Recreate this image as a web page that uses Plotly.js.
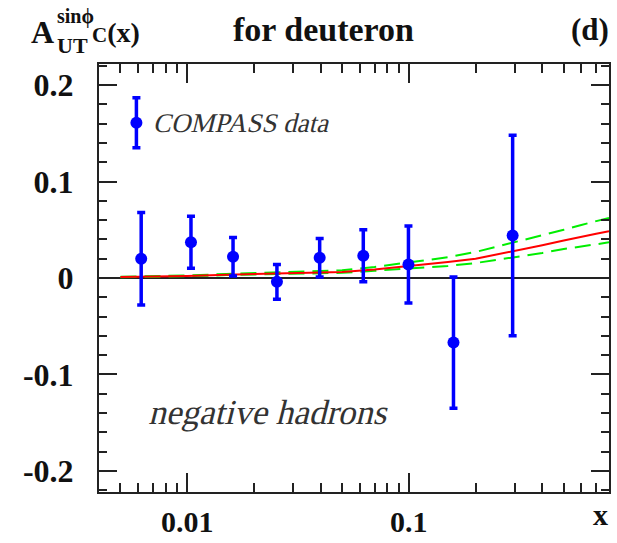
<!DOCTYPE html>
<html>
<head>
<meta charset="utf-8">
<script src="https://cdn.plot.ly/plotly-3.0.1.min.js"></script>
<style>html,body{margin:0;padding:0;background:#fff;}#chart{width:617px;height:543px;}</style>
</head>
<body>
<div id="chart"></div>
<script>
// COMPASS data points (deuteron, negative hadrons)
const xData = [0.0062, 0.0104, 0.0161, 0.0254, 0.0396, 0.0623, 0.0996, 0.159, 0.294];
const yData = [0.020, 0.037, 0.022, -0.004, 0.021, 0.023, 0.014, -0.067, 0.044];
const yErr  = [0.048, 0.027, 0.020, 0.018, 0.020, 0.027, 0.040, 0.068, 0.104];

// model curves (central and band)
const xCurve   = [0.005, 0.007, 0.01, 0.015, 0.02, 0.03, 0.05, 0.07, 0.1, 0.15, 0.2, 0.3, 0.4, 0.5, 0.6, 0.7, 0.8];
const yCentral = [0.0010, 0.0014, 0.0022, 0.0034, 0.0042, 0.0050, 0.0062, 0.0088, 0.0122, 0.0165, 0.0200, 0.0280, 0.0340, 0.0390, 0.0430, 0.0460, 0.0485];
const yUpper   = [0.0012, 0.0017, 0.0026, 0.0042, 0.0052, 0.0062, 0.0080, 0.0115, 0.0160, 0.0215, 0.0270, 0.0370, 0.0440, 0.0500, 0.0550, 0.0590, 0.0624];
const yLower   = [0.0008, 0.0012, 0.0018, 0.0030, 0.0036, 0.0042, 0.0054, 0.0075, 0.0095, 0.0125, 0.0155, 0.0215, 0.0260, 0.0300, 0.0330, 0.0350, 0.0370];

// legend sample marker
const legendX = [0.0059];
const legendY = [0.161];
const legendErr = [0.026];

// ticks
const xTickVals = [0.01, 0.1];
const xTickText = ['0.01', '0.1'];
const xMinorVals = [0.005, 0.006, 0.007, 0.008, 0.009, 0.02, 0.03, 0.04, 0.05, 0.06, 0.07, 0.08, 0.09, 0.2, 0.3, 0.4, 0.5, 0.6, 0.7];
const yTickVals = [-0.2, -0.1, 0, 0.1, 0.2];
const yTickText = ['-0.2', '-0.1', '0', '0.1', '0.2'];

const L = 99, R = 609, T = 64, B = 492;
const px = x => (x - L) / (R - L);
const py = y => (B - y) / (B - T);

const serif = 'Liberation Serif';
const blue = '#0000ff';

const traces = [
  {x: xCurve, y: yUpper, mode: 'lines', line: {color: '#00ee00', width: 2, dash: '16px,8px'}, hoverinfo: 'skip'},
  {x: xCurve, y: yLower, mode: 'lines', line: {color: '#00ee00', width: 2, dash: '16px,8px'}, hoverinfo: 'skip'},
  {x: xCurve, y: yCentral, mode: 'lines', line: {color: '#ff0000', width: 2}, hoverinfo: 'skip'},
  {x: xData, y: yData, mode: 'markers', marker: {color: blue, size: 12},
   error_y: {type: 'data', array: yErr, visible: true, color: blue, thickness: 3.5, width: 4}},
  {x: legendX, y: legendY, mode: 'markers', marker: {color: blue, size: 12},
   error_y: {type: 'data', array: legendErr, visible: true, color: blue, thickness: 3.5, width: 4}}
];

const ann = (text, x, y, size, opts) => Object.assign({
  text: text, xref: 'paper', yref: 'paper', x: px(x), y: py(y), showarrow: false,
  xanchor: 'left', yanchor: 'middle',
  font: {family: serif, size: size, color: '#111', weight: 'bold'}
}, opts || {});

const slanted = ['COMPASS data', 'negative hadrons'];

const layout = {
  width: 617, height: 543,
  margin: {l: L, r: 617 - R, t: T, b: 543 - B, pad: 0},
  paper_bgcolor: '#fff', plot_bgcolor: '#fff',
  showlegend: false,
  xaxis: {
    type: 'log', range: [Math.log10(0.004), Math.log10(0.8)],
    tickmode: 'array', tickvals: xTickVals, ticktext: xTickText,
    ticks: 'inside', ticklen: 19, tickwidth: 2, tickcolor: '#222',
    minor: {tickmode: 'array', tickvals: xMinorVals, ticks: 'inside', ticklen: 9, tickwidth: 2, tickcolor: '#222', showgrid: false},
    showline: true, linecolor: '#222', linewidth: 2, mirror: 'allticks',
    showgrid: false, zeroline: false,
    tickfont: {family: serif, size: 30, color: '#111', weight: 'bold'},
    ticklabelstandoff: 2
  },
  yaxis: {
    range: [-0.222, 0.222],
    tickmode: 'array', tickvals: yTickVals, ticktext: yTickText,
    ticks: 'inside', ticklen: 18, tickwidth: 2, tickcolor: '#222',
    minor: {dtick: 0.02, tick0: 0, ticks: 'inside', ticklen: 8, tickwidth: 2, tickcolor: '#222', showgrid: false},
    showline: true, linecolor: '#222', linewidth: 2, mirror: 'allticks',
    showgrid: false, zeroline: true, zerolinecolor: '#222', zerolinewidth: 2,
    tickfont: {family: serif, size: 32, color: '#111', weight: 'bold'},
    ticklabelstandoff: 17
  },
  annotations: [
    ann('A', 29, 32, 32),
    ann('sinϕ', 55, 17, 20),
    ann('UT', 55, 45, 22),
    ann('<span style="font-size:21px">C</span>(x)', 90, 32, 28),
    ann('for deuteron', 231, 30, 34),
    ann('(d)', 611, 30, 31, {xanchor: 'right'}),
    ann('x', 600, 514, 30, {xanchor: 'center'}),
    ann(slanted[0], 153, 123, 27, {font: {family: serif, size: 27, color: '#333'}}),
    ann(slanted[1], 149, 412, 35, {font: {family: serif, size: 35, color: '#333'}})
  ]
};

Plotly.newPlot('chart', traces, layout, {displayModeBar: false, staticPlot: true}).then(function () {
  document.querySelectorAll('text.annotation-text').forEach(function (t) {
    if (slanted.indexOf(t.textContent) >= 0) {
      const b = t.getBBox();
      const cx = b.x + b.width / 2, cy = b.y + b.height / 2;
      const prev = t.getAttribute('transform') || '';
      t.setAttribute('transform', prev + ' translate(' + cx + ',' + cy + ') skewX(-14) translate(' + (-cx) + ',' + (-cy) + ')');
    }
  });
});
</script>
</body>
</html>
